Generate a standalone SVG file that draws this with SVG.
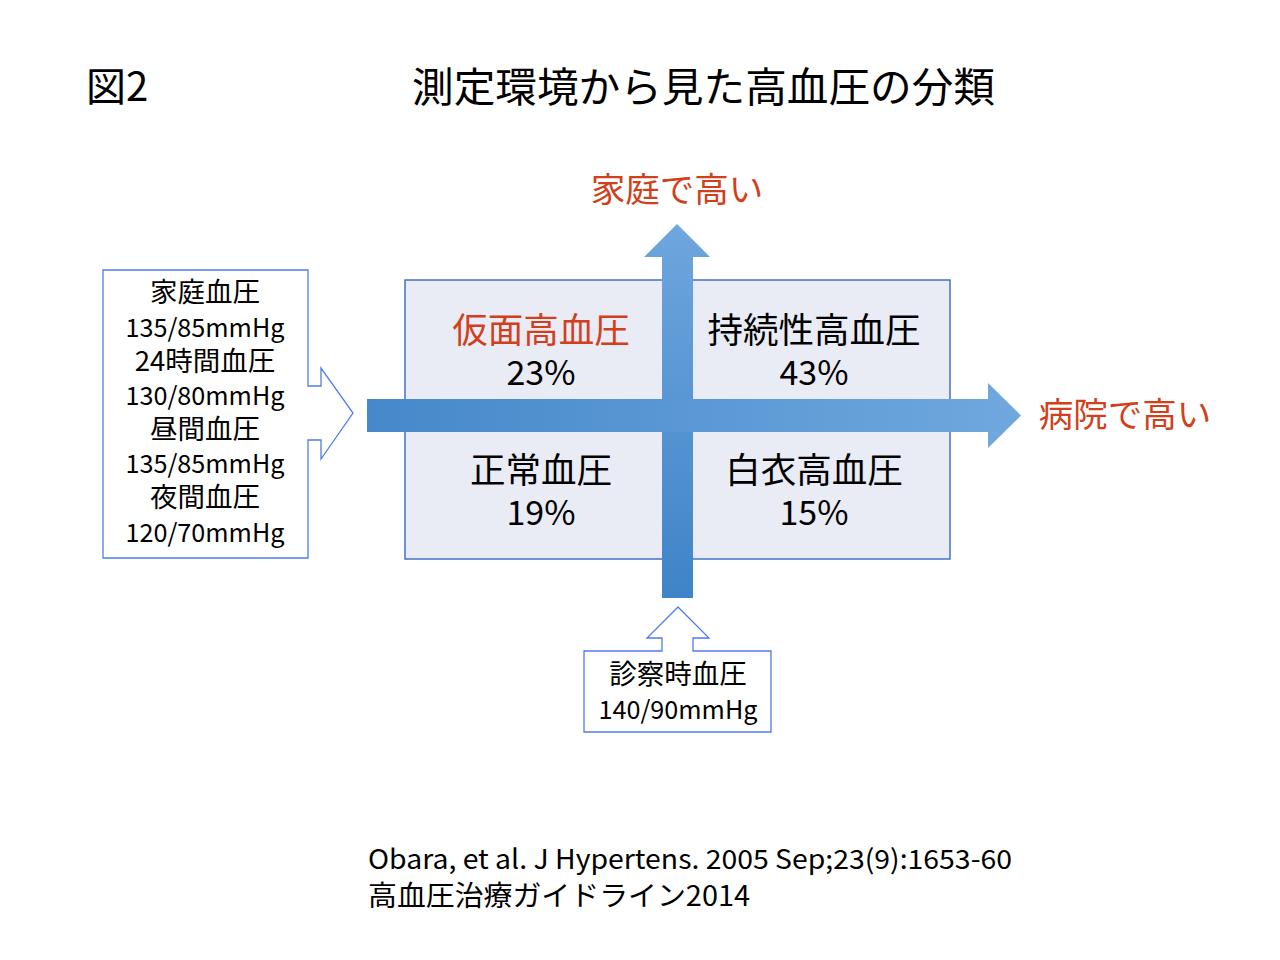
<svg xmlns="http://www.w3.org/2000/svg" width="1280" height="960" viewBox="0 0 1280 960">
<style>
text{font-family:"Noto Sans CJK JP","Noto Sans",sans-serif;fill:#000;dominant-baseline:central}
.c{text-anchor:middle}
.red{fill:#D13F1B}
.q{font-size:35.5px}
.p{font-size:34px}
.s{font-size:27.5px}
.n{font-size:25.5px}
.call{fill:#fff;stroke:#4F7BEF;stroke-width:1.3}
</style>
<defs>
<linearGradient id="gv" x1="0" y1="1" x2="0" y2="0">
<stop offset="0" stop-color="#3F84C8"/><stop offset="1" stop-color="#6FA6DE"/>
</linearGradient>
<linearGradient id="gh" x1="0" y1="0" x2="1" y2="0">
<stop offset="0" stop-color="#4688CA"/><stop offset="1" stop-color="#70A8DE"/>
</linearGradient>
</defs>
<rect width="1280" height="960" fill="#fff"/>
<g id="title">
<text x="86" y="84" style="font-size:40px">図2</text>
<text x="412" y="84" style="font-size:41px" textLength="583" lengthAdjust="spacingAndGlyphs">測定環境から見た高血圧の分類</text>
</g>
<g id="quadrant-box">
<rect x="405" y="280" width="545" height="279" fill="#E9EBF5" stroke="#4472C4" stroke-width="1.5"/>
</g>
<g id="connectors">
<path id="arrow-up" d="M662,598 L662,257 L644,257 L677,224 L710,257 L693,257 L693,598 Z" fill="url(#gv)"/>
<path id="arrow-right" d="M367,399 L988,399 L988,383 L1021,415.5 L988,448 L988,432 L367,432 Z" fill="url(#gh)"/>
</g>
<g id="label-home-high"><text class="c red" x="677" y="187" style="font-size:34.5px">家庭で高い</text></g>
<g id="label-clinic-high"><text class="c red" x="1125" y="412" style="font-size:34.5px">病院で高い</text></g>
<g id="masked"><text class="c red q" x="541" y="327">仮面高血圧</text><text class="c p" x="541" y="370">23%</text></g>
<g id="sustained"><text class="c q" x="814" y="327">持続性高血圧</text><text class="c p" x="814" y="370">43%</text></g>
<g id="normal"><text class="c q" x="541" y="467">正常血圧</text><text class="c p" x="541" y="510">19%</text></g>
<g id="whitecoat"><text class="c q" x="814" y="467">白衣高血圧</text><text class="c p" x="814" y="510">15%</text></g>
<g id="home-bp-callout">
<path class="call" d="M103,270 L308,270 L308,386 L321,386 L321,368 L353,413 L321,459 L321,440 L308,440 L308,558 L103,558 Z"/>
<text class="c s" x="205" y="290">家庭血圧</text>
<text class="c n" x="205" y="325" textLength="159" lengthAdjust="spacingAndGlyphs">135/85mmHg</text>
<text class="c s" x="205" y="359">24時間血圧</text>
<text class="c n" x="205" y="393" textLength="159" lengthAdjust="spacingAndGlyphs">130/80mmHg</text>
<text class="c s" x="205" y="427">昼間血圧</text>
<text class="c n" x="205" y="461" textLength="159" lengthAdjust="spacingAndGlyphs">135/85mmHg</text>
<text class="c s" x="205" y="495">夜間血圧</text>
<text class="c n" x="205" y="530" textLength="159" lengthAdjust="spacingAndGlyphs">120/70mmHg</text>
</g>
<g id="clinic-bp-callout">
<path class="call" d="M584,651 L662,651 L662,638 L647,638 L678,607 L709,638 L693,638 L693,651 L771,651 L771,732 L584,732 Z"/>
<text class="c s" x="678" y="672">診察時血圧</text>
<text class="c n" x="678" y="707" textLength="159" lengthAdjust="spacingAndGlyphs">140/90mmHg</text>
</g>
<g id="citation">
<text x="368" y="857" style="font-size:27px" textLength="644" lengthAdjust="spacingAndGlyphs">Obara, et al. J Hypertens. 2005 Sep;23(9):1653-60</text>
<text x="368" y="894" style="font-size:28px" textLength="382" lengthAdjust="spacingAndGlyphs">高血圧治療ガイドライン2014</text>
</g>
</svg>
